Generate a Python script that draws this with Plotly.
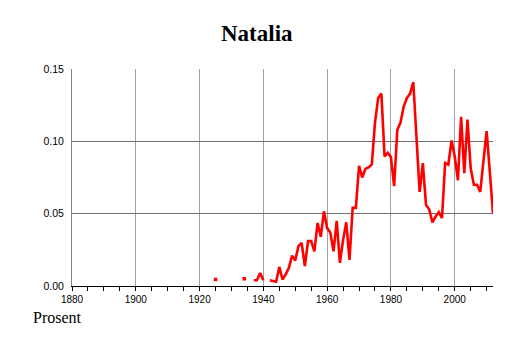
import plotly.graph_objects as go

years = list(range(1880, 2013))
vals = {
    1925: 0.0045, 1934: 0.005,
    1937: 0.004, 1938: 0.004, 1939: 0.009, 1940: 0.004,
    1942: 0.004, 1943: 0.0035, 1944: 0.003, 1945: 0.0132, 1946: 0.0045,
    1947: 0.008, 1948: 0.0125, 1949: 0.021, 1950: 0.0176, 1951: 0.0275,
    1952: 0.0298, 1953: 0.0137, 1954: 0.031, 1955: 0.031, 1956: 0.024,
    1957: 0.0436, 1958: 0.034, 1959: 0.0516, 1960: 0.040, 1961: 0.037,
    1962: 0.024, 1963: 0.045, 1964: 0.016, 1965: 0.032, 1966: 0.044,
    1967: 0.018, 1968: 0.054, 1969: 0.054, 1970: 0.083, 1971: 0.075,
    1972: 0.081, 1973: 0.082, 1974: 0.084, 1975: 0.113, 1976: 0.130,
    1977: 0.133, 1978: 0.0896, 1979: 0.092, 1980: 0.089, 1981: 0.069,
    1982: 0.108, 1983: 0.113, 1984: 0.124, 1985: 0.130, 1986: 0.133,
    1987: 0.141, 1988: 0.103, 1989: 0.065, 1990: 0.085, 1991: 0.056,
    1992: 0.053, 1993: 0.044, 1994: 0.048, 1995: 0.051, 1996: 0.047,
    1997: 0.085, 1998: 0.084, 1999: 0.1006, 2000: 0.0895, 2001: 0.073,
    2002: 0.117, 2003: 0.078, 2004: 0.115, 2005: 0.0815, 2006: 0.070,
    2007: 0.070, 2008: 0.065, 2009: 0.085, 2010: 0.107, 2011: 0.079,
    2012: 0.050,
}
values = [vals.get(y) for y in years]

x_ticks = [1880, 1900, 1920, 1940, 1960, 1980, 2000]
y_ticks = [0.00, 0.05, 0.10, 0.15]
y_tick_labels = ["0.00", "0.05", "0.10", "0.15"]

# isolated points (no neighbours) shown as small marks
iso_x, iso_y = [], []
for i, v in enumerate(values):
    if v is None:
        continue
    prev_v = values[i - 1] if i > 0 else None
    next_v = values[i + 1] if i < len(values) - 1 else None
    if prev_v is None and next_v is None:
        iso_x.append(years[i])
        iso_y.append(v)

fig = go.Figure()
fig.add_trace(go.Scatter(x=years, y=values, mode="lines",
                         line=dict(color="#ff0000", width=2.6),
                         connectgaps=False, hoverinfo="skip"))
fig.add_trace(go.Scatter(x=iso_x, y=iso_y, mode="markers",
                         marker=dict(color="#ff0000", symbol="square", size=3.5,
                                     line=dict(width=0)),
                         hoverinfo="skip"))

fig.update_layout(
    width=514, height=343,
    margin=dict(l=72, r=21, t=69, b=57),
    paper_bgcolor="white", plot_bgcolor="white",
    showlegend=False,
    font=dict(family="Liberation Sans, Arial, sans-serif", size=10, color="black"),
    xaxis=dict(range=[1880, 2012], tickvals=x_ticks, ticktext=[str(t) for t in x_ticks],
               showgrid=True, gridcolor="#a0a0a0", gridwidth=1,
               showline=True, linecolor="black", linewidth=1,
               ticks="outside", ticklen=4, tickcolor="black",
               minor=dict(dtick=5, tick0=1880, ticks="outside", ticklen=4,
                          tickcolor="black", showgrid=False),
               zeroline=False, tickfont=dict(size=10)),
    yaxis=dict(range=[0, 0.15], tickvals=y_ticks, ticktext=y_tick_labels,
               showgrid=True, gridcolor="#707070", gridwidth=1,
               showline=True, linecolor="#808080", linewidth=1,
               ticks="", ticklabelstandoff=5, zeroline=False,
               tickfont=dict(size=10.5)),
    annotations=[
        dict(text="<b>Natalia</b>", xref="paper", yref="paper",
             x=(257 - 72) / 421, y=(286 - 33) / 217, xanchor="center", yanchor="middle",
             showarrow=False, font=dict(family="Liberation Serif, Times New Roman, serif",
                                        size=23, color="black")),
        dict(text="Prosent", xref="paper", yref="paper",
             x=(31 - 72) / 421, y=(286 - 317) / 217, xanchor="left", yanchor="middle",
             showarrow=False, font=dict(family="Liberation Serif, Times New Roman, serif",
                                        size=16, color="black")),
    ],
)

fig.write_html("out.html")
